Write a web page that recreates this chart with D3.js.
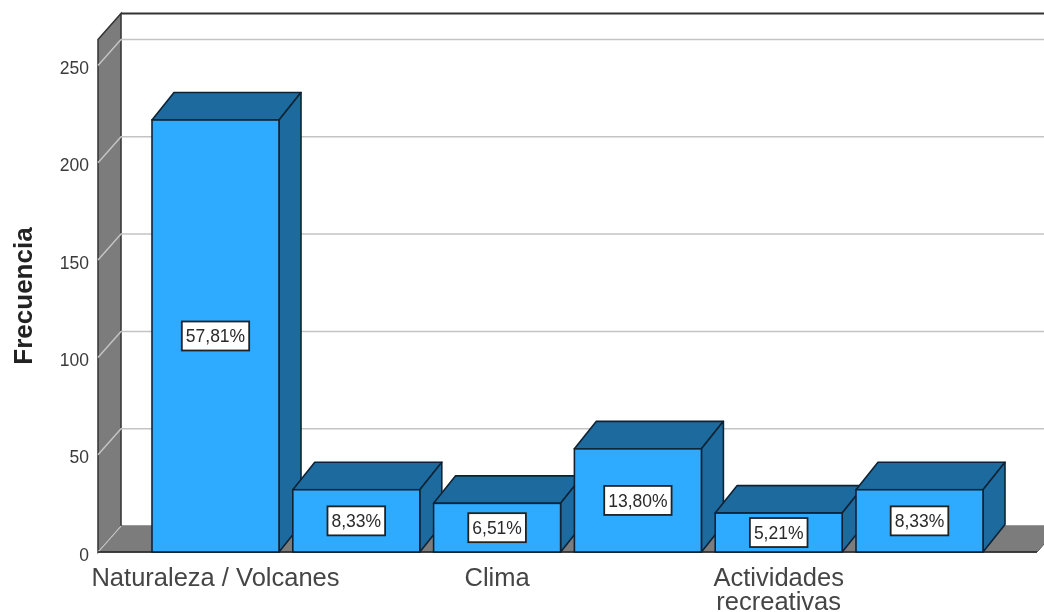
<!DOCTYPE html>
<html><head><meta charset="utf-8">
<script src="https://cdn.jsdelivr.net/npm/d3@7"></script>
<style>html,body{margin:0;padding:0;background:#fff}svg{display:block}text{font-family:"Liberation Sans",Arial,sans-serif}</style>
</head><body><svg id="c" width="1044" height="612"></svg>
<script>
const categories = ["Naturaleza / Volcanes","b","Clima","d","Actividades recreativas","f"];
const axisLabels = [["Naturaleza / Volcanes"],[],["Clima"],[],["Actividades","recreativas"],[]];
const frequencies = [222,32,25,53,20,32];
const percentLabels = ["57,81%","8,33%","6,51%","13,80%","5,21%","8,33%"];
const yTicks = [0,50,100,150,200,250];
const yTitle = "Frecuencia";

const W=1044, wallDX=23, wallDY=-26, barDX=22, barDY=-27.5;
const svg=d3.select("#c");
svg.append("defs").append("filter").attr("id","soft")
  .attr("filterUnits","userSpaceOnUse").attr("x",0).attr("y",0).attr("width",1044).attr("height",612)
  .append("feGaussianBlur").attr("stdDeviation",0.6);
const root=svg.append("g").attr("filter","url(#soft)");
const y=d3.scaleLinear().domain([0,250]).range([552,65.5]);
const x=d3.scaleBand().domain(categories).range([145.1,989.9]).paddingInner(0.098).paddingOuter(0.049);
const plotL=98, plotR=1037, plotT=39.5, plotB=552;
const pts=a=>a.map(p=>p.join(",")).join(" ");
const floorPts=pts([[plotL,plotB],[plotL+wallDX,plotB+wallDY],[plotR+wallDX,plotB+wallDY],[plotR,plotB]]);
root.append("polygon").attr("points",floorPts).attr("fill","#7b7b7b").attr("stroke","#333").attr("stroke-width",1);
root.append("line").attr("x1",plotL+wallDX).attr("x2",W).attr("y1",plotT+wallDY).attr("y2",plotT+wallDY).attr("stroke","#333").attr("stroke-width",2);
root.append("polygon").attr("points",pts([[plotL,plotT],[plotL+wallDX,plotT+wallDY],[plotL+wallDX,plotB+wallDY],[plotL,plotB]]))
  .attr("fill","#7b7b7b").attr("stroke","#333").attr("stroke-width",1.5);
root.append("polygon").attr("points",floorPts).attr("fill","#7b7b7b");
yTicks.slice(1).forEach(t=>{
  root.append("path").attr("fill","none").attr("stroke","#c4c4c4").attr("stroke-width",1.5)
    .attr("d",`M${plotL},${y(t)}L${plotL+wallDX},${y(t)+wallDY}L${W},${y(t)+wallDY}`);
});
root.append("line").attr("x1",plotL).attr("y1",plotB).attr("x2",plotL+wallDX).attr("y2",plotB+wallDY).attr("stroke","#c4c4c4").attr("stroke-width",1.2);
root.append("line").attr("x1",plotL).attr("x2",plotR).attr("y1",plotB).attr("y2",plotB).attr("stroke","#222").attr("stroke-width",1.5);
const axis=root.append("g").attr("transform",`translate(${plotL},2.5)`).call(d3.axisLeft(y).tickValues(yTicks).tickSize(0).tickPadding(9));
axis.select(".domain").remove();
axis.selectAll("text").attr("font-size",17.5).attr("fill","#3a3a3a").style("font-family",'"Liberation Sans",Arial,sans-serif');
const bw=x.bandwidth();
root.selectAll("g.bar").data(frequencies).join("g").attr("class","bar").each(function(d,i){
  const g=d3.select(this), x0=x(categories[i]), x1=x0+bw, yt=y(d), yb=y(0);
  g.append("polygon").attr("points",pts([[x0,yt],[x0+barDX,yt+barDY],[x1+barDX,yt+barDY],[x1,yt]]))
    .attr("fill","#1f6a9e").attr("stroke","#0d2436").attr("stroke-width",1.6).attr("stroke-linejoin","round");
  g.append("polygon").attr("points",pts([[x1,yt],[x1+barDX,yt+barDY],[x1+barDX,yb+barDY],[x1,yb]]))
    .attr("fill","#1f6a9e").attr("stroke","#0d2436").attr("stroke-width",1.6).attr("stroke-linejoin","round");
  g.append("rect").attr("x",x0).attr("y",yt).attr("width",bw).attr("height",yb-yt)
    .attr("fill","#2eabff").attr("stroke","#0d2436").attr("stroke-width",1.6);
});
percentLabels.forEach((s,i)=>{
  const cx=x(categories[i])+bw/2, cy=(y(frequencies[i])+y(0))/2;
  const t=root.append("text").attr("x",cx).attr("y",cy).attr("text-anchor","middle").attr("dy","0.36em")
    .attr("font-size",17.5).attr("fill","#2a2a2a").text(s);
  const w=t.node().getComputedTextLength()+8;
  root.append("rect").attr("x",cx-w/2).attr("y",cy-14.5).attr("width",w).attr("height",29)
    .attr("fill","#fff").attr("stroke","#222").attr("stroke-width",1.8);
  t.raise();
});
axisLabels.forEach((lines,i)=>{
  lines.forEach((s,j)=>{
    root.append("text").attr("x",x(categories[i])+bw/2).attr("y",586+j*24).attr("text-anchor","middle")
      .attr("font-size",25.5).attr("fill","#444").text(s);
  });
});
root.append("text").attr("transform","translate(32,296) rotate(-90)").attr("text-anchor","middle")
  .attr("font-size",26).attr("font-weight","bold").attr("fill","#222").text(yTitle);
</script></body></html>
